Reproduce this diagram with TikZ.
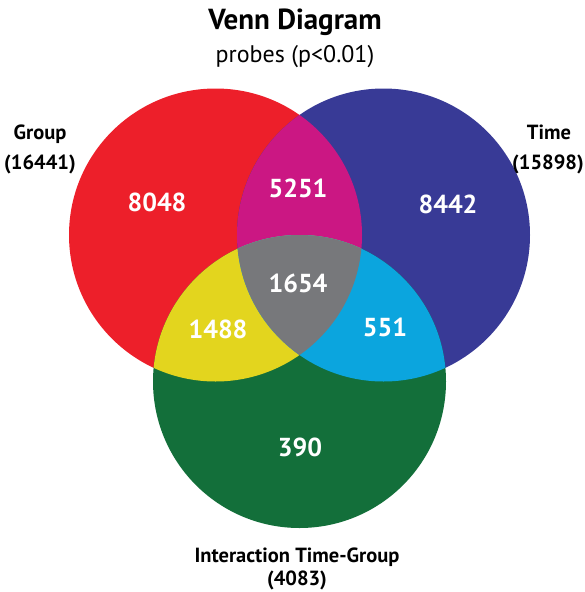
\documentclass[tikz,border=0pt]{standalone}
\usepackage{fontspec}
\setmainfont{PT Sans}
\definecolor{vred}{HTML}{ED1F2A}
\definecolor{vblue}{HTML}{383A96}
\definecolor{vgreen}{HTML}{136F3A}
\definecolor{vmag}{HTML}{CB1783}
\definecolor{vyel}{HTML}{E3D51E}
\definecolor{vcyan}{HTML}{0BA5DE}
\definecolor{vgray}{HTML}{77787B}
\begin{document}
\begin{tikzpicture}[x=1pt,y=-1pt,
  num/.style={text=white,font=\bfseries\fontsize{26}{26}\selectfont,inner sep=0pt},
  lab/.style={font=\bfseries\fontsize{20.5}{21}\selectfont,inner sep=0pt,anchor=base},
  title/.style={font=\bfseries\fontsize{29}{29}\selectfont,inner sep=0pt,anchor=base},
  sub/.style={font=\fontsize{24}{24}\selectfont,inner sep=0pt,anchor=base}]
\useasboundingbox (0,0) rectangle (585,592);
\def\R{146.5}
\coordinate (cr) at (215.5,235);
\coordinate (cb) at (383.5,235);
\coordinate (cg) at (299.5,381.5);
\fill[vred] (cr) circle[radius=\R];
\fill[vblue] (cb) circle[radius=\R];
\fill[vgreen] (cg) circle[radius=\R];
\begin{scope}
  \clip (cr) circle[radius=\R];
  \fill[vmag] (cb) circle[radius=\R];
  \fill[vyel] (cg) circle[radius=\R];
\end{scope}
\begin{scope}
  \clip (cb) circle[radius=\R];
  \fill[vcyan] (cg) circle[radius=\R];
\end{scope}
\begin{scope}
  \clip (cr) circle[radius=\R];
  \clip (cb) circle[radius=\R];
  \fill[vgray] (cg) circle[radius=\R];
\end{scope}
\node[title] (t) at (295,29) {Venn Diagram};
\node[sub] (s) at (295,62) {probes (p<0.01)};
\node[lab] (g1) at (40,139) {Group};
\node[lab] (g2) at (40,169) {(16441)};
\node[lab] (h1) at (549,139) {Time};
\node[lab] (h2) at (548,169) {(15898)};
\node[num] (n1) at (157,202) {8048};
\node[num] (n2) at (298,188) {5251};
\node[num] (n3) at (448,204) {8442};
\node[num] (n4) at (298,283) {1654};
\node[num] (n5) at (218,329) {1488};
\node[num] (n6) at (385,327) {551};
\node[num] (n7) at (300,447) {390};
\node[lab] (i1) at (297,562) {Interaction Time-Group};
\node[lab] (i2) at (297,585) {(4083)};
\end{tikzpicture}
\end{document}
